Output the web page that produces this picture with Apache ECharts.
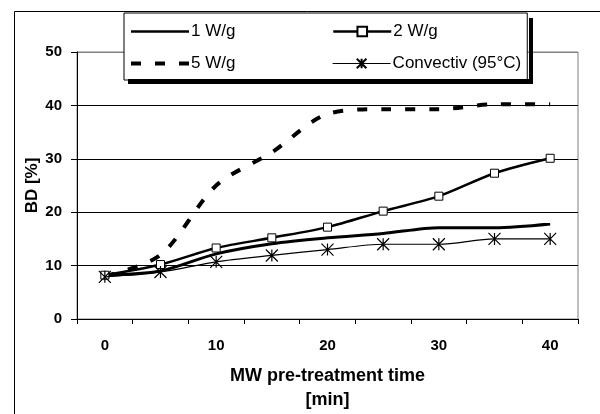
<!DOCTYPE html>
<html>
<head>
<meta charset="utf-8">
<script src="https://cdn.jsdelivr.net/npm/echarts@6/dist/echarts.min.js"></script>
<style>html,body{margin:0;padding:0;background:#fff;}#c{width:600px;height:414px;}</style>
</head>
<body>
<div id="c"></div>
<script>
var categories = ['0','5','10','15','20','25','30','35','40'];
var w1 = [8.2, 9.0, 12.2, 14.1, 15.2, 16.0, 17.1, 17.1, 17.8];
var w2 = [8.2, 10.2, 13.3, 15.2, 17.2, 20.2, 23.0, 27.3, 30.1];
var w5 = [8.0, 12.0, 25.0, 31.2, 38.4, 39.3, 39.3, 40.2, 40.2];
var conv = [7.9, 8.8, 10.7, 11.9, 13.0, 14.0, 14.0, 15.0, 15.0];
var yTicks = {min: 0, max: 50, interval: 10};
var FONT = '"Liberation Sans", Arial, sans-serif';
var asterisk = 'path://M0,-5L0,5M-5,-5L5,5M-5,5L5,-5';

var chart = echarts.init(document.getElementById('c'), null, {renderer: 'canvas'});
chart.setOption({
  animation: false,
  backgroundColor: '#fff',
  textStyle: {fontFamily: FONT, color: '#000'},
  graphic: {
    elements: [
      {
        type: 'rect', id: 'frame', silent: true, z: 0,
        shape: {x: 14.5, y: 11.5, width: 800, height: 600},
        style: {fill: 'none', stroke: '#000', lineWidth: 1}
      },
      {
        type: 'rect', id: 'shadowR', silent: true, z: 50,
        shape: {x: 529, y: 18, width: 4, height: 66},
        style: {fill: '#000'}
      },
      {
        type: 'rect', id: 'shadowB', silent: true, z: 50,
        shape: {x: 128, y: 79, width: 405, height: 5},
        style: {fill: '#000'}
      }
    ]
  },
  grid: {left: 77, right: 22, top: 52, bottom: 95, show: true, borderColor: '#808080', borderWidth: 1, containLabel: false, outerBoundsMode: 'none'},
  legend: {
    left: 124, top: 13, z: 20,
    width: 400,
    padding: [7, 2, 5, 5],
    backgroundColor: '#fff',
    borderColor: '#000', borderWidth: 1,
    itemWidth: 58, itemHeight: 12, itemGap: 9,
    textStyle: {fontFamily: FONT, fontSize: 17, color: '#000', width: 132, lineHeight: 23, padding: [0,0,0,-3]},
    data: [
      {name: '1 W/g', lineStyle: {width: 2.5}},
      {name: '2 W/g', lineStyle: {width: 2.5}},
      {name: '5 W/g', lineStyle: {width: 4, type: [10, 14]}},
      {name: 'Convectiv (95°C)', lineStyle: {width: 1.2}}
    ]
  },
  xAxis: {
    type: 'category', data: categories, boundaryGap: true,
    axisLine: {lineStyle: {color: '#000', width: 1}},
    axisTick: {show: true, interval: 0, length: 5, lineStyle: {color: '#000'}},
    axisLabel: {interval: 1, margin: 19, fontFamily: FONT, fontSize: 15, fontWeight: 'bold', color: '#000'},
    splitLine: {show: false},
    name: 'MW pre-treatment time\n[min]', nameLocation: 'middle', nameGap: 45, nameMoveOverlap: false,
    nameTextStyle: {fontFamily: FONT, fontSize: 18, fontWeight: 'bold', color: '#000', lineHeight: 24}
  },
  yAxis: {
    type: 'value', min: yTicks.min, max: yTicks.max, interval: yTicks.interval,
    axisLine: {show: true, lineStyle: {color: '#000', width: 1}},
    axisTick: {show: true, length: 6, lineStyle: {color: '#000'}},
    axisLabel: {margin: 15, fontFamily: FONT, fontSize: 15, fontWeight: 'bold', color: '#000'},
    splitLine: {show: true, lineStyle: {color: ['#000','#000','#000','#000','#000','#808080'], width: 1}},
    name: 'BD [%]', nameLocation: 'middle', nameGap: 36, nameRotate: 90, nameMoveOverlap: false,
    nameTextStyle: {fontFamily: FONT, fontSize: 17, fontWeight: 'bold', color: '#000'}
  },
  series: [
    {
      name: '1 W/g', type: 'line', data: w1, smooth: 0.3,
      symbol: 'circle', symbolSize: 0, showSymbol: false,
      itemStyle: {color: 'rgba(0,0,0,0)', borderWidth: 0},
      lineStyle: {color: '#000', width: 3}, z: 3
    },
    {
      name: '2 W/g', type: 'line', data: w2, smooth: 0.3,
      symbol: 'rect', symbolSize: 8,
      itemStyle: {color: '#fff', borderColor: '#000', borderWidth: 1},
      lineStyle: {color: '#000', width: 2.5}, z: 4
    },
    {
      name: '5 W/g', type: 'line', data: w5, smooth: 0.3,
      symbol: 'circle', symbolSize: 0, showSymbol: false,
      itemStyle: {color: 'rgba(0,0,0,0)', borderWidth: 0},
      lineStyle: {color: '#000', width: 4, type: [10, 14]}, z: 2
    },
    {
      name: 'Convectiv (95°C)', type: 'line', data: conv, smooth: 0.3,
      symbol: asterisk, symbolSize: 12,
      itemStyle: {color: 'rgba(0,0,0,0)', borderColor: '#000', borderWidth: 1.2},
      lineStyle: {color: '#000', width: 1.2}, z: 5
    }
  ]
});
</script>
</body>
</html>
